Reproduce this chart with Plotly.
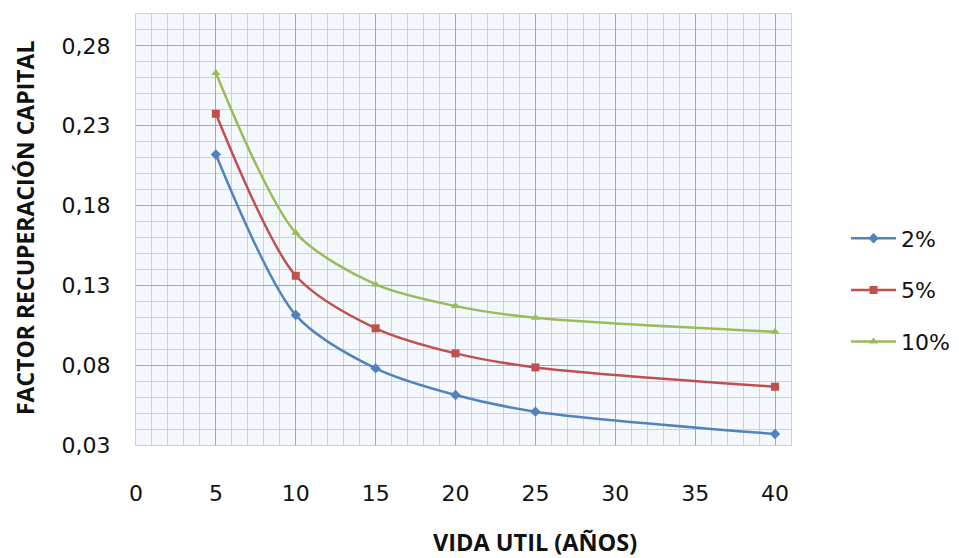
import plotly.graph_objects as go

years = [5, 10, 15, 20, 25, 40]
series_names = ["2%", "5%", "10%"]
values_2 = [0.2120, 0.1114, 0.0780, 0.0613, 0.0509, 0.0369]
values_5 = [0.2375, 0.1360, 0.1031, 0.0874, 0.0786, 0.0665]
values_10 = [0.2631, 0.1629, 0.1306, 0.1170, 0.1097, 0.1009]
colors = ["#5182BE", "#C0504D", "#9BBB59"]
symbols = ["diamond", "square", "triangle-up"]

fig = go.Figure()
for name, vals, col, sym in zip(series_names, [values_2, values_5, values_10], colors, symbols):
    fig.add_trace(go.Scatter(
        x=years, y=vals, name=name, mode="lines+markers",
        line=dict(color=col, width=2.5, shape="spline", smoothing=0.8),
        marker=dict(symbol=sym, size=8, color=col),
        legendgroup=name,
    ))

tick_font = dict(family="DejaVu Sans", size=22, color="#111111")
legend_font = dict(family="DejaVu Sans", size=22, color="#111111")
major = "#aea4a4"
minor_c = "#d6cece"

# page body has an 8px margin, so the figure is drawn 8px in from the window edge
OFF = 8
W, H = 959 - OFF, 558 - OFF
L, R, T, B = 136 - OFF, 168, 14 - OFF, 113
PW = W - L - R
PH = H - T - B

fig.update_layout(
    width=W, height=H,
    margin=dict(l=L, r=R, t=T, b=B),
    paper_bgcolor="white",
    plot_bgcolor="#f4f8fc",
    separators=",.",
    showlegend=True,
    legend=dict(
        xref="container", yref="container",
        x=(846 - OFF) / W, y=1 - (290 - OFF) / H,
        xanchor="left", yanchor="middle",
        font=legend_font, tracegroupgap=20, itemwidth=45,
        bgcolor="rgba(0,0,0,0)",
    ),
    xaxis=dict(
        range=[0, 41], tick0=0, dtick=5,
        showgrid=True, gridcolor=major, gridwidth=1.2,
        minor=dict(dtick=1, showgrid=True, gridcolor=minor_c, gridwidth=1),
        ticks="outside", ticklen=29, tickcolor="rgba(0,0,0,0)",
        tickfont=tick_font, zeroline=False,
        showline=True, linecolor=minor_c, mirror=True,
    ),
    yaxis=dict(
        range=[0.03, 0.30], tick0=0.03, dtick=0.05, tickformat=".2f",
        showgrid=True, gridcolor=major, gridwidth=1.2,
        minor=dict(dtick=0.01, showgrid=True, gridcolor=minor_c, gridwidth=1),
        ticks="outside", ticklen=20, tickcolor="rgba(0,0,0,0)",
        tickfont=tick_font, zeroline=False,
        showline=True, linecolor=minor_c, mirror=True,
    ),
    annotations=[
        dict(text="<b>FACTOR RECUPERACIÓN CAPITAL</b>", xref="paper", yref="paper",
             x=(25 - OFF - L) / PW, y=(T + PH - (228 - OFF)) / PH, showarrow=False, textangle=-90,
             xanchor="center", yanchor="middle",
             font=dict(family="Open Sans", size=23, color="#111111")),
        dict(text="<b>VIDA UTIL (AÑOS)</b>", xref="paper", yref="paper",
             x=(535 - OFF - L) / PW, y=(T + PH - (542 - OFF)) / PH, showarrow=False,
             xanchor="center", yanchor="middle",
             font=dict(family="Open Sans", size=23.5, color="#111111")),
    ],
)

fig.write_html("out.html")
